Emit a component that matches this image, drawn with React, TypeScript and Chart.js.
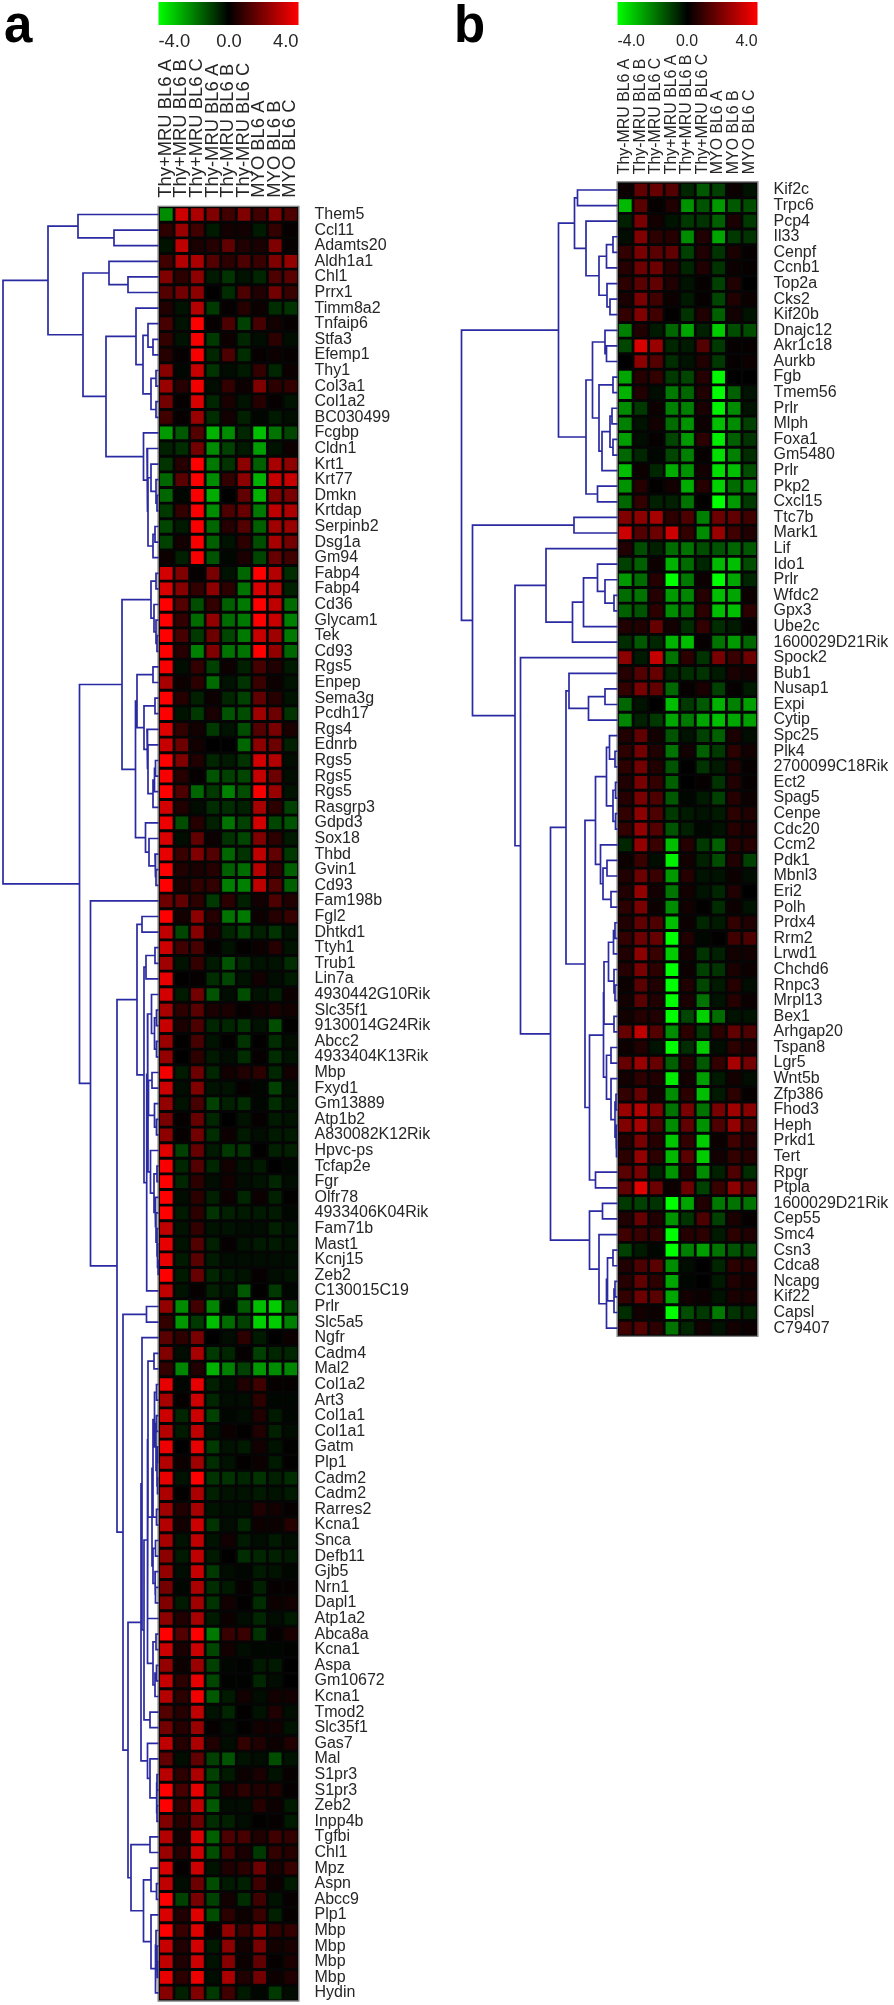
import React, { useEffect, useRef } from "react";
import { Chart, registerables } from "chart.js";

Chart.register(...registerables);

type Tree = number | [number, Tree, Tree];

const samplesA = ["Thy+MRU BL6 A", "Thy+MRU BL6 B", "Thy+MRU BL6 C", "Thy-MRU BL6 A", "Thy-MRU BL6 B", "Thy-MRU BL6 C", "MYO BL6 A", "MYO BL6 B", "MYO BL6 C"];
const samplesB = ["Thy-MRU BL6 A", "Thy-MRU BL6 B", "Thy-MRU BL6 C", "Thy+MRU BL6 A", "Thy+MRU BL6 B", "Thy+MRU BL6 C", "MYO BL6 A", "MYO BL6 B", "MYO BL6 C"];
const colorTicks = ["-4.0", "0.0", "4.0"];

const genesA = ["Them5", "Ccl11", "Adamts20", "Aldh1a1", "Chl1", "Prrx1", "Timm8a2", "Tnfaip6", "Stfa3", "Efemp1", "Thy1", "Col3a1", "Col1a2", "BC030499", "Fcgbp", "Cldn1", "Krt1", "Krt77", "Dmkn", "Krtdap", "Serpinb2", "Dsg1a", "Gm94", "Fabp4", "Fabp4", "Cd36", "Glycam1", "Tek", "Cd93", "Rgs5", "Enpep", "Sema3g", "Pcdh17", "Rgs4", "Ednrb", "Rgs5", "Rgs5", "Rgs5", "Rasgrp3", "Gdpd3", "Sox18", "Thbd", "Gvin1", "Cd93", "Fam198b", "Fgl2", "Dhtkd1", "Ttyh1", "Trub1", "Lin7a", "4930442G10Rik", "Slc35f1", "9130014G24Rik", "Abcc2", "4933404K13Rik", "Mbp", "Fxyd1", "Gm13889", "Atp1b2", "A830082K12Rik", "Hpvc-ps", "Tcfap2e", "Fgr", "Olfr78", "4933406K04Rik", "Fam71b", "Mast1", "Kcnj15", "Zeb2", "C130015C19", "Prlr", "Slc5a5", "Ngfr", "Cadm4", "Mal2", "Col1a2", "Art3", "Col1a1", "Col1a1", "Gatm", "Plp1", "Cadm2", "Cadm2", "Rarres2", "Kcna1", "Snca", "Defb11", "Gjb5", "Nrn1", "Dapl1", "Atp1a2", "Abca8a", "Kcna1", "Aspa", "Gm10672", "Kcna1", "Tmod2", "Slc35f1", "Gas7", "Mal", "S1pr3", "S1pr3", "Zeb2", "Inpp4b", "Tgfbi", "Chl1", "Mpz", "Aspn", "Abcc9", "Plp1", "Mbp", "Mbp", "Mbp", "Mbp", "Hydin"];

const genesB = ["Kif2c", "Trpc6", "Pcp4", "Il33", "Cenpf", "Ccnb1", "Top2a", "Cks2", "Kif20b", "Dnajc12", "Akr1c18", "Aurkb", "Fgb", "Tmem56", "Prlr", "Mlph", "Foxa1", "Gm5480", "Prlr", "Pkp2", "Cxcl15", "Ttc7b", "Mark1", "Lif", "Ido1", "Prlr", "Wfdc2", "Gpx3", "Ube2c", "1600029D21Rik", "Spock2", "Bub1", "Nusap1", "Expi", "Cytip", "Spc25", "Plk4", "2700099C18Rik", "Ect2", "Spag5", "Cenpe", "Cdc20", "Ccm2", "Pdk1", "Mbnl3", "Eri2", "Polh", "Prdx4", "Rrm2", "Lrwd1", "Chchd6", "Rnpc3", "Mrpl13", "Bex1", "Arhgap20", "Tspan8", "Lgr5", "Wnt5b", "Zfp386", "Fhod3", "Heph", "Prkd1", "Tert", "Rpgr", "Ptpla", "1600029D21Rik", "Cep55", "Smc4", "Csn3", "Cdca8", "Ncapg", "Kif22", "Capsl", "C79407"];

const valuesA: number[][] = [
[-2.2,3.2,2.7,2,1,2,1,2,1.2],[0.7,2.4,1,-0.4,0.3,0.3,-0.4,0.8,0.1],[-0.3,3,0.4,0.6,1.5,0.5,0.4,2,0.1],[1,2.8,2.7,1.3,0.7,1.2,0.9,2,2.3],[2,0.7,2.2,-0.4,-0.8,-0.3,-0.6,1.2,1.4],[1.3,1.8,2.2,0,-0.7,1.2,0.5,1.8,0.9],[0.5,-0.3,2.8,-0.9,0.1,0.6,0.2,-0.7,-0.8],[1.1,-0.3,4,0.1,1.2,-1,1.1,0.3,0.1],
[0.8,-0.3,3.9,-0.9,0.2,-0.6,-0.2,0.7,-0.2],[0.6,0.1,3.9,-0.6,1.2,-0.7,0.1,0.2,0.1],[2.1,-0.1,3.1,-0.8,-0.2,-0.4,0.8,-0.6,0.2],[2.4,0.6,3.8,-0.2,0.8,0.2,2,0.7,0.8],[1.8,0.1,3.4,-0.6,0.4,-0.3,0.6,0.1,-0.3],[1,0.1,2.4,-0.7,0.3,-0.5,-0.1,-0.4,-0.2],[-2.4,-1.4,1.3,-2.8,-2.2,-0.6,-3,-1.8,-1.1],[-0.5,-0.7,1.8,-2.2,-1,-0.4,-2.5,-0.3,0.2],[-0.8,0.6,4,-1.9,-0.8,2.2,-1.5,2.6,2.2],[-1.6,1.4,4,-2.2,0.8,2.2,-2.8,3.1,3.1],[-1.6,-0.1,3.9,-2.7,0,1.5,-2.8,2,1.9],[-0.9,0.8,3.9,-2.2,1.2,1.6,-1.9,3,2.7],[-1.1,-0.4,3.9,-1.6,0.6,1.3,-1.5,2.5,2.4],[-1,0.3,3.9,-1.5,-0.3,0.7,-1.2,2.6,1.8],[0.2,-0.5,3.9,-1.3,-0.1,0.4,-1.1,1.6,1],
[3.3,2,0.1,1.9,-0.3,-1.6,4,2.8,-0.7],[3.4,2.1,0.8,2.2,0.7,-1.8,3.4,2.8,-0.5],[4,1.3,-1.2,0.8,-1.5,-1.9,4,3,-1.7],[4,0.8,-1.7,2.3,-1.7,-1.9,4,3.1,-2],[4,1.1,-0.9,1.7,-1.1,-1.9,3.1,2.5,-1.9],[4,0.6,-2,2,-1.8,-1.8,4,2.3,-1.6],[3.9,-0.2,0.8,-1,0.2,-0.5,1.1,0.5,-0.4],[2.6,0.2,0.7,-1.7,-0.3,-0.8,0.9,0.2,-0.3],[4,0.6,-0.5,0.2,-0.6,-1,1.5,0.6,-0.3],[4,-0.3,-0.9,0.4,-1.3,-1.2,2.5,1.7,-0.8],[3.5,0.8,0.3,-0.9,-0.3,-1.2,1.3,1.9,0.4],[3.1,1.7,0.3,0,0,-1.6,2.2,1.7,-0.5],[4,2,0.5,-0.6,-0.4,-0.8,3.3,2.8,-0.2],[3.9,0.6,0.1,-1.3,-1,-1.1,3.1,1.7,-0.2],[4,1.2,-1.6,-0.9,-2,-1.2,3.9,2.4,-0.3],[3.3,0.5,-0.2,-0.7,-0.7,-0.5,2.6,0.7,-1],[3.7,-1.2,0.6,-0.5,-1.8,-1,3.3,-1.1,-1.3],[3.4,-0.2,1.5,0.2,-0.8,-1.1,2,0.7,-0.4],[3.6,0.9,2,1.3,-1.6,-0.8,3,1.5,-0.9],[4,0.5,0.4,0.6,-1.5,-1.7,2.9,0.8,-1.5],[4,0.4,0.8,0.8,-2,-2,3,1.3,-1.5],
[1.7,1.5,0.7,-0.9,0.7,-0.5,0.3,1.2,0.5],[4,0.3,2.2,0.6,-1.8,-1.9,0.2,0.6,0.9],[3,-1.1,2.1,0.4,-0.6,-1,-0.5,-0.8,-0.3],[3.2,1,1.1,0.1,-0.3,0.05,0.2,0.6,-0.3],[2.5,-0.3,0.8,-0.4,-1.3,-0.6,-0.3,-0.3,-0.7],[3.6,0.05,0.1,-0.7,-1.1,-0.3,0.3,-0.2,-0.4],[3.3,-0.4,1.8,-1.3,-0.2,-1.2,-0.3,-0.5,0.2],[2.6,0.7,1.4,0.4,0.4,0.1,0.3,0.4,0.3],[3.1,0.4,1.2,-0.6,-0.6,-0.8,-0.3,-1.2,0.05],[2.4,0.05,1.1,-0.3,0.05,-0.8,0.05,-0.7,-0.2],[2.3,0,0.7,-0.4,-0.2,-0.7,0.1,-0.7,-0.3],[3.8,-0.4,1.7,-0.6,0.3,0.5,0.7,-0.6,0.3],[3.2,-0.2,2,-0.3,-0.3,0.1,-0.1,-1,-0.2],[2.3,-0.3,1.1,-1,-0.5,-0.7,-0.1,-0.7,-0.3],[1.9,0.1,1.6,-0.6,0,-0.3,0.1,-0.4,-0.3],[2.2,0.1,1.8,-0.7,0.2,-0.4,-0.2,-0.4,-0.4],[3.5,-1,1.6,-0.4,-0.9,-0.8,0.05,-0.5,-0.5],[3.9,-0.6,1.3,-0.6,0.3,-0.3,-0.4,0,-0.1],[4,-0.6,0.7,-0.2,0.3,-0.2,-0.3,-0.6,-0.2],[4,-0.2,0.7,-0.5,0.2,-0.6,0.2,-0.5,0.05],[4,-0.4,0.7,-0.8,-0.5,-0.4,-0.4,-0.4,-0.1],[3,-0.3,0.8,-0.3,-0.3,-0.2,-0.2,-0.5,-0.3],[3.6,-0.3,1.3,-0.5,0.1,-0.3,-0.4,-0.4,-0.3],[3.6,-0.4,1.4,-0.4,-0.2,-0.2,-0.2,-0.2,-0.2],[4,-0.4,1.6,-0.6,-0.4,-0.3,0.1,-0.2,-0.3],[3,-0.3,0.1,-0.5,-0.3,-1.4,0.05,-0.9,-0.1],
[2.3,-2.2,1,-2.1,-0.05,-1.4,-3,-3.2,-1],[0.8,-2.4,-0.9,-3,-1.7,-1,-3.3,-3.2,-2],[1.4,0.7,1.9,0,-0.2,0.7,-0.4,0,0.2],[2,-0.2,2.6,-0.9,-0.6,0.1,-1,-0.6,-0.6],[0.8,-2.1,0.5,-2.8,-2,-1,-2.4,-2.2,-2.1],[3.6,-0.1,3.6,-0.5,-0.2,0.5,1,0.1,0.1],[2.6,0.1,3.2,-0.6,-0.2,-0.2,0.7,-0.1,-0.1],[3.2,-0.6,3.2,-1,-0.1,-0.2,0.5,-0.4,-0.1],[2.8,-0.4,3,-0.3,0.2,0.05,0.5,-0.5,-0.2],[3.7,0,3.6,-0.9,-0.3,-0.4,0.3,-0.3,0.05],[2.8,0.2,2.5,-0.7,-0.3,0.05,0.2,-0.4,0.05],[3.6,-0.3,4,-0.8,-0.8,-0.6,-0.8,-0.5,-0.7],[2.7,0.05,2.7,-0.5,-0.3,-0.3,-0.4,-0.3,-0.4],[2.5,0.5,2.6,-0.3,-0.2,-0.2,0.5,0.3,0.1],[2.8,0.3,3.2,-0.8,-0.2,-0.6,0.2,0.2,0.6],[2.6,-0.3,3,-0.3,0.3,-0.4,-0.2,-0.4,-0.2],[2.2,-0.4,3,-0.4,0,-0.7,-0.6,-0.5,-0.4],[2.3,-0.2,3.1,-0.9,-0.2,-0.1,-0.4,-0.3,-0.1],[1.8,-0.1,2.7,-0.7,-0.4,0.1,-0.5,0.1,0.1],[2,-0.4,2.5,-0.8,0.3,0.05,-0.7,0.2,0.3],[2.2,0.5,2.6,-0.4,0.2,-0.2,-0.6,-0.2,-0.4],[4,1.3,4,-1.9,0.9,0.9,-0.8,0.1,0.4],[3.2,0.4,3.2,-1.1,0.3,-0.2,-0.1,-0.1,-0.05],[2.3,0.2,2.4,-1,-0.1,-0.05,-0.4,-0.4,0],[3.1,0.7,3.6,-1.1,-0.05,-0.05,-0.6,-0.2,0],
[2.8,0.7,3.8,-1.4,-0.4,0.3,-0.2,0.3,0.3],[1.3,0.6,3,-0.3,-0.6,0.05,-0.3,0.5,-0.2],[1.8,0.6,2.4,0.1,-0.2,0.05,0.3,0.3,-0.3],[3,0.6,2.7,0.5,-0.2,0.8,0.5,0.2,0.5],[1.5,-0.2,1.5,-1,-1.3,-0.3,-0.2,-1.2,-0.3],[2.9,0.7,2.7,-1,-0.4,0.2,0.4,-0.3,0.1],[4,1.1,3.6,-0.9,0.4,0.7,0.5,0.5,0.1],[4,0.7,3,-1.4,-0.2,-0.2,0.6,0.2,-0.4],[2,0.6,1.7,-0.7,-0.5,-0.2,0.05,0.1,-0.4],[2.8,0.3,3.4,-1.5,1.2,1.1,0.5,1,0.8],[2.4,0.6,3.2,-1.2,1.1,0.4,-0.9,0.8,0.6],[3.4,0.1,3.2,-0.3,0.5,0.7,1.7,0.4,0.9],[3,-0.2,1.7,-1.2,-0.4,-0.5,1,0.2,-0.4],[4,-1,1.9,-1,0.3,-0.7,1,-0.3,0.1],[3.4,0.5,3.5,-1.2,0.7,0.2,0.9,-0.5,0.1],[4,0.9,3.5,0.2,2.3,0.9,2.2,0.8,0.8],[3.1,0.5,3.3,-0.4,2.2,0.3,1.9,0.3,0.4],[3,0.5,3.2,-0.3,2.1,0.2,1.5,0.1,0.4],[3.6,0.7,3.7,-0.2,2.7,0.5,1.8,0.2,0.5],[2.1,-0.5,2,-0.9,1,-0.4,-0.1,-0.9,-0.2],
];

const valuesB: number[][] = [
[0.2,1.5,1.6,1.3,-0.6,-1.4,-1,0.2,-0.3],[-2.9,1.4,0.1,0.5,-2.3,-1.3,-2.4,-1.4,-1.2],[-0.5,1.9,0.3,-0.3,-0.9,-0.8,-1.5,0.4,-0.9],[-0.2,2,0.7,0.6,-2.2,0.5,-2.6,-0.9,-0.8],[0.8,1.9,1.4,1.5,-1,0.5,-0.8,0.4,0.1],[0.6,1.7,1.7,0.6,-0.6,0.5,-0.8,0.2,0.1],[0.7,1.4,1.5,0.5,-0.3,0.1,-1,0.5,0],[0.4,1.9,1,0.2,-0.4,0.1,-1.1,0.5,0.2],[0.8,2,1,0.05,-0.8,0.5,-1.5,0.3,-0.3],[-2,0.5,-0.4,-1.6,-2.6,-0.5,-3.2,-1.2,-1.2],[-1.1,3.4,2.4,-0.6,-0.4,1.3,-0.9,0.1,0.1],[0,2.2,1.3,-0.7,-0.3,0.5,-0.9,0.1,0.2],[-2.6,0.6,0.8,-0.9,-1.1,0.6,-3.9,0,0],[-2.8,0.5,-0.2,-1.9,-1.6,0.5,-4,-1.5,-0.3],[-2.2,-0.9,0.2,-2,-2,0.4,-3.8,-2.2,-0.3],[-2,-0.3,0.3,-1.7,-2.3,0.2,-3,-2.2,-1],[-2.5,-0.2,0.1,-1.1,-2.4,0.7,-3.7,-1.5,-0.8],[-1.6,-0.6,-0.1,-1.1,-2,0.1,-3.5,-2,-0.7],[-3,0.2,-0.6,-2.7,-2.3,0.3,-3.5,-3,-1.2],[-2.3,0.6,0.05,0.3,-2.7,0.6,-3.3,-1.7,-2],[-1.6,0.8,-0.5,-0.5,-1.8,0.05,-4,-2.4,-0.9],[2,2.2,2.6,0.7,1.2,-2,1.7,1.5,1],[3.2,1.3,1.7,3.2,0.8,-2.2,2.4,1,0.5],[0.5,-1.2,-0.5,-1.7,-1.8,-1.2,-1.3,-1.6,-1.4],[-1,-1.5,0.2,-2.8,-1.7,-0.6,-2.9,-3,-1.2],[-2.4,-1.7,0.6,-4,-1.9,0.2,-4,-2.6,-0.6],[-1.7,-1.8,0.6,-2.4,-2.1,0.6,-3,-2.6,0.2],[-1.5,-1.3,0.7,-2.2,-1.7,0.7,-3,-3,0.7],[0.5,0.5,1.6,0.3,-0.7,0.8,-0.7,-0.4,0.1],[-0.7,-1.4,-0.6,-2.8,-3,0.1,-1.8,-2.4,-1.6],[2.2,-0.4,3.1,-1.8,0.7,-0.8,1.9,0.9,1.7],
[0.6,1.3,1.6,-0.6,-0.7,-0.8,-0.4,0.4,0.3],[0.8,1.9,1.5,-1.6,0.1,0.4,-1,0.1,-0.4],[-1.6,-0.3,0,-3,-0.9,-1.4,-2.8,-2,-2.5],[-2.1,-0.5,-0.9,-2.6,-1.9,-2.6,-3,-2.6,-2.5],[0.5,1.5,0.3,-1.3,-0.3,-1,-1.5,0.4,-0.2],[0.7,1.8,0.5,-1.8,0.3,-1.5,-0.9,0.7,0.3],[0.7,1.8,0.5,-1.3,0,-0.8,-0.4,0.5,0.1],[0.5,1.9,0.8,-1.5,0,0.1,-0.8,0.5,0.1],[0.6,1.9,1.2,-1.4,-0.1,-0.4,-1,0.6,0.2],[0.8,2.2,1.2,-0.9,-0.4,-0.3,-0.4,0.7,0.5],[0.8,2.3,1.3,-1.3,-0.5,-0.1,-0.3,0.6,0.4],[-0.6,2.3,0.9,-3,0.6,-0.9,-1.5,0.6,0.6],[0.2,0.9,-0.2,-3.8,0.3,-0.5,-1.2,0.5,-1],[0.5,1.7,0.9,-2.4,0.6,-0.3,-0.3,0.2,-0.2],[0.5,2.3,0.3,-1.8,0.3,-0.3,-0.6,0.5,0],[0.7,1.9,0.2,-2.2,0.3,0.05,-0.7,0.2,-0.3],[0.5,1.5,1.2,-3,0.2,-0.6,-0.4,0.8,0.5],[0.8,1.7,1.6,-4,0.5,-0.1,0.05,1,1.2],[0.5,2.2,0.9,-3.2,0.3,-0.8,-0.5,0.3,0.3],[0.6,1.9,0.7,-4,0.2,-1,-0.8,0.4,0.2],[0.2,1.4,0.5,-4,0.5,-1.1,-0.4,0.6,-0.2],[0.3,1.4,0.5,-4,0.4,-1.8,-0.3,0.6,0.2],
[0.3,0.6,0.5,-4,-1.1,-3.3,-1.7,-0.3,-0.3],[1.6,3,1.3,-2.2,0.7,-0.9,0.7,1.5,1.2],[0.2,0.5,-0.3,-4,-0.7,-3.2,-0.2,0.7,0.4],[1.6,2.4,1.6,-1.5,0.6,-1.4,0.8,2.6,1.8],[0.3,0.7,0.5,-3.7,0.3,-2.5,-0.4,0.3,-0.2],[0.8,1.6,0.3,-2.2,0.7,-3,-0.4,0.7,0.1],[2.4,2.8,2,-1.8,1.9,-1.8,1.9,2.5,2.1],[2,2.6,1.2,-2.2,1.5,-2.3,1.2,2.3,1.1],[0.6,1.9,0.6,-3.1,0.8,-3.2,0.2,1,0.5],[0.7,2.3,0.7,-2.9,1.4,-3.2,0.3,0.8,0.6],[1.4,1.9,-0.5,-2.3,0.6,-2.2,-0.5,1.2,-0.7],[1.5,3.5,1.7,0.2,1.7,-1,0.9,2.2,1.3],[-0.9,-1,-0.8,-4,-2.6,0.5,-1.9,-1.8,-1.8],[0.5,1.6,0.5,-2.3,-0.8,1.2,-1,0.4,0.1],[1,0.9,0.8,-4,0.6,0.7,-0.4,0.7,0.5],[-1,-0.4,-0.1,-4,-2,-2.5,-1.8,-1.3,-1.1],[0.5,1.2,1.4,-2.2,-0.2,0,-0.6,0.7,0.6],[0.6,1.5,0.7,-2.6,-0.1,0,-0.4,0.5,0.3],[0.8,1.7,1.4,-2.6,0.3,0.2,-0.3,0.4,0.4],[-0.7,0.3,0.2,-4,-1.2,-0.9,-1.9,-0.8,-0.6],[1,1.3,0.7,-1.8,-0.6,0.3,-0.3,0.3,0.2],
];

// Dendrograms: [linkage distance, child, child]; a bare number is a row index.
const treeA: Tree = [155.5,
  [110.5,
    [80.5, 0, [44.5, 1, 2]],
    [75.5,
      [49.5, 3, [30.5, 4, 5]],
      [52.5,
        [22.5, 6, [15.5, [10.5, 7, [5.5, 8, 9]], [7.5, [2.5, 10, 11], [2.5, 12, 13]]]],
        [15, 14, [11.5, 15, [10.5, [7.5, 16, [2.5, 17, [1.5, 18, 19]]], [5.5, [3.5, 20, 21], 22]]]],
      ],
    ],
  ],
  [79,
    [36.5,
      [7.5, [2.5, 23, 24], [4.5, 25, [2.5, 26, [1.5, 27, 28]]]],
      [23,
        [21.5, [5.5, 29, 30], [14.5, [3.5, 31, 32], [11.5, 33, [10.5, 34, [5.5, [4, [3, 35, 36], 37], 38]]]]],
        [13, 39, [9.5, 40, [3.5, 41, [2.5, 42, 43]]]],
      ],
    ],
    [68, 44,
      [41.5,
        [21.5, [16.5, 45, 46],
          [14.5, [12.5, [3.5, 47, 48], 49],
            [11.8,
              [11, [7, 50, [4, [2, 51, 52], [2, 53, 54]]],
                [10.5, [10, [6.5, 55, 56], [4, 57, [2, 58, 59]]],
                  [8, 60, [4.5, [1.5, 61, 62], [3.5, 63, [2.5, 64, [1.5, 65, [1, 66, [0.5, 67, 68]]]]]]]]],
              69]]],
        [35.5, [12, 70, 71],
          [30.5,
            [17.5,
              [16.5, 72,
                [14.5,
                  [11,
                    [10.5, [4.5, 73, 74],
                      [6.5,
                        [5.5, [4, [2, 75, 76], [2.5, [2, 77, 78], [1.5, [1, 79, 80], [1, 81, 82]]]], [2, 83, 84]],
                        [5.5, [3, 85, 86], [3.5, 87, [3, 88, 89]]]]],
                    [11, 90, [5.5, [2.5, 91, 92], [3.5, [2, 93, 94], 95]]]],
                  [8.5, 96, 97]]],
              [11, 98, [8.5, 99, [2, [1.5, 100, 101], [1.5, 102, 103]]]]],
            [27.5, [8.5, 104, 105],
              [15, [7.5, 106, [2, 107, 108]], [7.5, 109, [3, [2.5, 110, [1.5, 111, [1, 112, 113]]], 114]]]],
          ]],
      ]],
  ],
];

const treeB: Tree = [156,
  [59,
    [43, [40, 0, 1], [31.5, 2, [18.5, [11, [4.5, 3, 4], 5], [10.5, 6, [7.5, 7, 8]]]]],
    [31.5,
      [25, [12.5, 9, [11, 10, 11]], [18.5, [4.5, 12, 13], [15.5, [7.5, [5.5, 14, 15], [4.5, 16, 17]], 18]]],
      [20, 19, 20]],
  ],
  [145,
    [43.5, 21, 22],
    [102.5,
      [71.5, 23, [45, [34, [20, 24, [12.5, 25, [3.5, 26, 27]]], 28], 29]],
      [97, 30,
        [67,
          [51.5,
            [48.5, 31, [29, [12.5, 32, 33], 34]],
            [32.5,
              [22,
                [11, [8, 35, [2.5, 36, 37]], [4.5, [2, 38, 39], [2, 40, 41]]],
                [17, 42, [14.5, [10.5, 43, 44], [6.5, 45, 46]]]],
              [28,
                [14,
                  [13.5, [9, [4, [2.5, 47, 48], 49], [3.5, 50, [2.5, 51, 52]]], [3.5, 53, 54]],
                  [11, [6.5, 55, 56], [6.5, 57, [2.5, [1.5, 58, 59], [1.5, 60, [1, 61, 62]]]]]],
                [22, 63, 64]]]],
          [28, [15, 65, 66], [18.5, 67, [11, [10, [4.5, 68, 69], [3.5, [2.5, 70, 71], 72]], 73]]],
        ]],
    ],
  ],
];

const colorOf = (v: number) => {
  const c = Math.round((Math.min(4, Math.abs(v)) / 4) * 255);
  return v < 0 ? `rgb(0,${c},0)` : `rgb(${c},0,0)`;
};

type PanelSpec = {
  letter: string; letterX: number; genes: string[]; samples: string[]; values: number[][]; tree: Tree;
  left: number; width: number; height: number; heatLeft: number; heatRight: number; heatTop: number; heatBottom: number;
  topFont: number; topGap: number; tickBase: number; midX: number;
};

const LINE_COLOR = "#2a2aa2";
const TEXT_COLOR = "#262626";
const FONT = '"Liberation Sans", Arial, sans-serif';

function Panel({ spec }: { spec: PanelSpec }) {
  const ref = useRef<HTMLCanvasElement | null>(null);
  useEffect(() => {
    const s = spec;
    const colW = (s.heatRight - s.heatLeft) / s.samples.length;
    const cells: any[] = [];
    s.values.forEach((row, r) => row.forEach((v, c) => cells.push({ x: c + 0.5, y: r, v })));
    const links: any[] = [];
    const walk = (t: Tree): [number, number] => {
      if (typeof t === "number") return [0, t];
      const [h, a, b] = t;
      const pa = walk(a);
      const pb = walk(b);
      const hx = -h / colW;
      links.push({ x: pa[0], y: pa[1] }, { x: hx, y: pa[1] }, { x: hx, y: pb[1] }, { x: pb[0], y: pb[1] }, { x: NaN, y: NaN });
      return [hx, (pa[1] + pb[1]) / 2];
    };
    walk(s.tree);

    const furniture = {
      id: "furniture",
      beforeDatasetsDraw(chart: any) {
        const { ctx, scales } = chart;
        const x0 = scales.x.getPixelForValue(0);
        const x9 = scales.x.getPixelForValue(s.samples.length);
        const yT = scales.y.top;
        const yB = scales.y.bottom;
        ctx.save();
        ctx.fillStyle = "#050505";
        ctx.fillRect(x0, yT, x9 - x0, yB - yT);
        ctx.strokeStyle = "#777";
        ctx.lineWidth = 1;
        ctx.strokeRect(x0 - 0.5, yT - 0.5, x9 - x0 + 1, yB - yT + 1);
        const g = ctx.createLinearGradient(x0, 0, x9, 0);
        g.addColorStop(0, "#00ff00");
        g.addColorStop(0.5, "#000000");
        g.addColorStop(1, "#ff0000");
        ctx.fillStyle = g;
        ctx.fillRect(x0, 2, x9 - x0, 23);
        ctx.fillStyle = TEXT_COLOR;
        ctx.font = `${s.topFont}px ${FONT}`;
        ctx.textBaseline = "alphabetic";
        ctx.textAlign = "left";
        ctx.fillText(colorTicks[0], x0, s.tickBase);
        ctx.textAlign = "center";
        ctx.fillText(colorTicks[1], s.midX - s.left, s.tickBase);
        ctx.textAlign = "right";
        ctx.fillText(colorTicks[2], x9, s.tickBase);
        ctx.fillStyle = "#000";
        ctx.textAlign = "left";
        ctx.font = `bold 51px ${FONT}`;
        ctx.fillText(s.letter, s.letterX, 41.5);
        ctx.restore();
      },
    };

    const chart = new Chart(ref.current as HTMLCanvasElement, {
      type: "scatter",
      data: {
        datasets: [
          {
            data: links,
            showLine: true,
            spanGaps: false,
            borderColor: LINE_COLOR,
            borderWidth: 1.7,
            pointRadius: 0,
            tension: 0,
            clip: false,
            order: 2,
          } as any,
          {
            data: cells,
            pointStyle: "rect",
            pointRadius: 9,
            pointHoverRadius: 9,
            pointBorderWidth: 0,
            borderWidth: 0,
            pointBackgroundColor: (c: any) => colorOf(c.raw ? c.raw.v : 0),
            order: 1,
          } as any,
        ],
      },
      plugins: [furniture],
      options: {
        animation: false,
        responsive: false,
        devicePixelRatio: 1,
        events: [],
        layout: { autoPadding: false, padding: { left: 0, right: 0, top: 0, bottom: s.height - s.heatBottom } },
        plugins: { legend: { display: false }, tooltip: { enabled: false }, title: { display: false } },
        scales: {
          x: {
            type: "linear",
            position: "top",
            min: -(s.heatLeft - s.left) / colW,
            max: s.samples.length,
            grid: { display: false, drawTicks: false },
            border: { display: false },
            afterBuildTicks: (sc: any) => { sc.ticks = s.samples.map((_, i) => ({ value: i + 0.5 })); },
            afterFit: (sc: any) => {
              sc.height = s.heatTop;
              sc.paddingLeft = 0; sc.paddingRight = 0; sc.paddingTop = 0; sc.paddingBottom = 0;
            },
            ticks: {
              autoSkip: false,
              minRotation: 90,
              maxRotation: 90,
              padding: s.topGap,
              labelOffset: s.topFont * 1.2 - 0.5,
              color: TEXT_COLOR,
              font: { family: FONT, size: s.topFont },
              callback: (v: any) => s.samples[Math.round(Number(v) - 0.5)] ?? "",
            },
          },
          y: {
            type: "linear",
            position: "right",
            reverse: true,
            min: -0.5,
            max: s.genes.length - 0.5,
            grid: { display: false, drawTicks: false },
            border: { display: false },
            afterBuildTicks: (sc: any) => { sc.ticks = s.genes.map((_, i) => ({ value: i })); },
            afterFit: (sc: any) => {
              sc.width = s.left + s.width - s.heatRight;
              sc.paddingLeft = 0; sc.paddingRight = 0; sc.paddingTop = 0; sc.paddingBottom = 0;
            },
            ticks: {
              autoSkip: false,
              padding: 16,
              color: TEXT_COLOR,
              font: { family: FONT, size: 16 },
              callback: (v: any) => s.genes[Math.round(Number(v))] ?? "",
            },
          },
        },
      } as any,
    });
    return () => chart.destroy();
  }, [spec]);
  return (
    <canvas
      ref={ref}
      width={spec.width}
      height={spec.height}
      style={{ position: "absolute", left: spec.left, top: 0, width: spec.width, height: spec.height, filter: "blur(0.45px)" }}
    />
  );
}

const panelA: PanelSpec = { letter: "a", letterX: 4, genes: genesA, samples: samplesA, values: valuesA, tree: treeA, left: 0, width: 440, height: 2005, heatLeft: 158.5, heatRight: 298.5, heatTop: 206.7, heatBottom: 2000.7, topFont: 18.4, topGap: 9, tickBase: 46.5, midX: 229 };
const panelB: PanelSpec = { letter: "b", letterX: 14, genes: genesB, samples: samplesB, values: valuesB, tree: treeB, left: 440, width: 454, height: 1345, heatLeft: 617.5, heatRight: 757.5, heatTop: 182.2, heatBottom: 1335.9, topFont: 15.9, topGap: 8, tickBase: 45.5, midX: 687 };

export default function App() {
  return (
    <div style={{ position: "absolute", left: 0, top: 0, width: 894, height: 2005, background: "#fff", overflow: "hidden" }}>
      <Panel spec={panelA} />
      <Panel spec={panelB} />
    </div>
  );
}
